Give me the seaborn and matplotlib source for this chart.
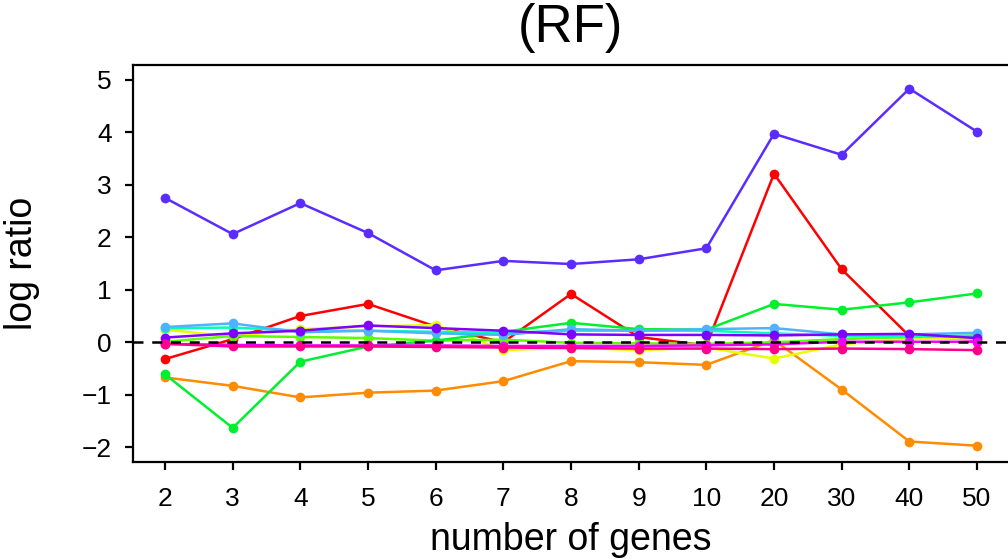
import numpy as np
import pandas as pd
import matplotlib
matplotlib.use('Agg')
import matplotlib.pyplot as plt
import seaborn as sns

# x categories (equally spaced)
genes = ['2', '3', '4', '5', '6', '7', '8', '9', '10', '20', '30', '40', '50']

# log ratio per series
red = [-0.32, 0.06, 0.50, 0.73, 0.30, 0.00, 0.92, 0.10, -0.06, 3.21, 1.39, 0.12, 0.05]
orange = [-0.67, -0.83, -1.05, -0.96, -0.92, -0.74, -0.36, -0.38, -0.43, 0.04, -0.90, -1.89, -1.97]
yellow = [0.24, 0.11, 0.25, 0.30, 0.33, -0.15, -0.10, -0.15, -0.10, -0.31, -0.04, 0.07, 0.07]
lime = [0.01, 0.12, 0.10, 0.08, 0.03, 0.05, -0.01, -0.02, -0.03, 0.00, 0.06, 0.10, 0.13]
green = [-0.61, -1.63, -0.37, -0.08, 0.03, 0.20, 0.37, 0.25, 0.24, 0.73, 0.62, 0.76, 0.93]
cyan = [0.27, 0.28, 0.22, 0.22, 0.20, 0.18, 0.22, 0.22, 0.22, 0.17, 0.12, 0.12, 0.12]
skyblue = [0.29, 0.36, 0.19, 0.22, 0.17, 0.14, 0.25, 0.22, 0.25, 0.27, 0.15, 0.15, 0.18]
blue = [2.75, 2.06, 2.65, 2.08, 1.37, 1.55, 1.49, 1.58, 1.79, 3.97, 3.57, 4.83, 4.01]
violet = [0.09, 0.17, 0.22, 0.32, 0.27, 0.22, 0.15, 0.14, 0.14, 0.13, 0.15, 0.16, 0.08]
magenta = [-0.03, -0.05, -0.06, -0.06, -0.06, -0.07, -0.07, -0.07, -0.06, -0.04, 0.01, 0.01, 0.01]
pink = [-0.03, -0.08, -0.08, -0.08, -0.09, -0.10, -0.11, -0.12, -0.12, -0.13, -0.12, -0.13, -0.15]

series = {'red': red, 'orange': orange, 'yellow': yellow, 'lime': lime,
          'green': green, 'cyan': cyan, 'skyblue': skyblue, 'blue': blue,
          'violet': violet, 'magenta': magenta, 'pink': pink}
colors = {'red': '#FF0000', 'orange': '#FF8B00', 'yellow': '#E8FF00',
          'lime': '#5DFF00', 'green': '#00F02E', 'cyan': '#00FFB9',
          'skyblue': '#4DB3FF', 'blue': '#5A2CFF', 'violet': '#8000FF',
          'magenta': '#F000FF', 'pink': '#FF008B'}

rows = []
for name, vals in series.items():
    for i, v in enumerate(vals):
        rows.append({'series': name, 'pos': i + 1, 'value': v})
df = pd.DataFrame(rows)

sns.set_style('white')
plt.rcParams['font.family'] = ['Liberation Sans', 'DejaVu Sans']
plt.rcParams['text.color'] = 'black'
plt.rcParams['axes.labelcolor'] = 'black'
plt.rcParams['xtick.color'] = 'black'
plt.rcParams['ytick.color'] = 'black'

W, H = 1008, 559
fig = plt.figure(figsize=(W / 100, H / 100), dpi=100)
left, right, top, bottom = 132.5, 1009.5, 65, 462
ax = fig.add_axes([left / W, 1 - bottom / H, (right - left) / W, (bottom - top) / H])

sns.lineplot(data=df, x='pos', y='value', hue='series', palette=colors,
             hue_order=list(series.keys()), marker='o', markersize=7,
             markeredgewidth=0, linewidth=1.8, legend=False, ax=ax,
             zorder=2)
ax.axhline(0, color='black', lw=1.8, ls=(0, (4, 3.5)), zorder=3)

ax.set_xlim(0.52, 13.48)
ax.set_ylim(-2.28, 5.28)
ax.set_xticks(range(1, 14))
ax.set_xticklabels(genes)
ax.set_yticks(range(-2, 6))
ax.set_yticklabels([str(v).replace('-', '\u2212') for v in range(-2, 6)])

for s in ax.spines.values():
    s.set_color('black')
    s.set_linewidth(1.6)
ax.tick_params(direction='out', length=6, width=1.6, labelsize=19,
               bottom=True, left=True)
ax.tick_params(axis='x', pad=12)
ax.tick_params(axis='y', pad=9)

ax.set_xlabel('number of genes', fontsize=27, va='center', ha='center')
ax.xaxis.set_label_coords(0.5, (bottom - 540) / (bottom - top))
ax.set_ylabel('log ratio', fontsize=27, va='center', ha='center')
ax.yaxis.set_label_coords((22 - left) / (right - left), 0.5)
fig.text(570 / W, 1 - 28 / H, '(RF)', fontsize=38, ha='center', va='center')

fig.savefig('out.png', dpi=100)
